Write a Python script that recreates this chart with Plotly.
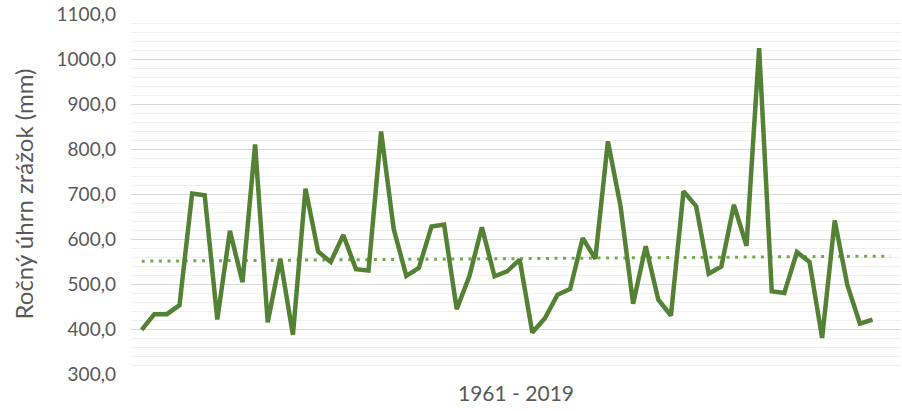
import numpy as np
import plotly.graph_objects as go

years = list(range(1961, 2020))
precip = [398, 433, 433, 453, 701, 697, 421, 618, 504, 810,
          415, 556, 387, 712, 572, 549, 609, 533, 530, 839,
          622, 518, 536, 628, 632, 444, 517, 626, 517, 528,
          554, 392, 424, 476, 489, 602, 556, 817, 673, 456,
          584, 465, 430, 706, 673, 523, 539, 676, 585, 1024,
          484, 480, 571, 549, 380, 641, 498, 412, 421]
y_tickvals = [300, 400, 500, 600, 700, 800, 900, 1000, 1100]
y_ticktext = ["300,0", "400,0", "500,0", "600,0", "700,0", "800,0", "900,0", "1000,0", "1100,0"]
y_title = "Ročný úhrn zrážok (mm)"
x_title = "1961 - 2019"

idx = np.arange(len(precip))
slope, intercept = np.polyfit(idx, precip, 1)
trend_x = [0, len(precip) + 0.4]
trend_y = [intercept + slope * t for t in trend_x]

fig = go.Figure()
fig.add_trace(go.Scatter(x=trend_x, y=trend_y, mode="lines",
                         line=dict(color="#70ad47", width=3, dash="3px,5.6px"),
                         hoverinfo="skip", showlegend=False))
fig.add_trace(go.Scatter(x=idx, y=precip, mode="lines",
                         line=dict(color="#548235", width=4.5),
                         text=years, showlegend=False))

font_family = "Lato, Open Sans, sans-serif"
fig.update_layout(
    width=902, height=411,
    margin=dict(l=131, r=1, t=14, b=37),
    paper_bgcolor="white", plot_bgcolor="white",
    font=dict(family=font_family, color="#595959", size=19),
    xaxis=dict(range=[-0.85, 60.26], showticklabels=False, showgrid=False,
               zeroline=False, showline=False, ticks="",
               title=dict(text=x_title, font=dict(size=21, color="#595959"), standoff=12)),
    yaxis=dict(range=[300, 1100], tickvals=y_tickvals, ticktext=y_ticktext,
               showgrid=True, gridcolor="#d9d9d9", gridwidth=1.3,
               minor=dict(dtick=20, tick0=300, showgrid=True, gridcolor="#f0f0f0", gridwidth=1.3),
               zeroline=False, showline=False, ticks="", ticklabelstandoff=14,
               tickfont=dict(size=19, color="#595959"),
               title=dict(text=y_title, font=dict(size=24, color="#595959"), standoff=16)),
)

# remove the browser's default 8px body margin so the figure fills the window exactly
fig.write_html("out.html", config={"displayModeBar": False},
               post_script="document.body.style.margin='0';")
